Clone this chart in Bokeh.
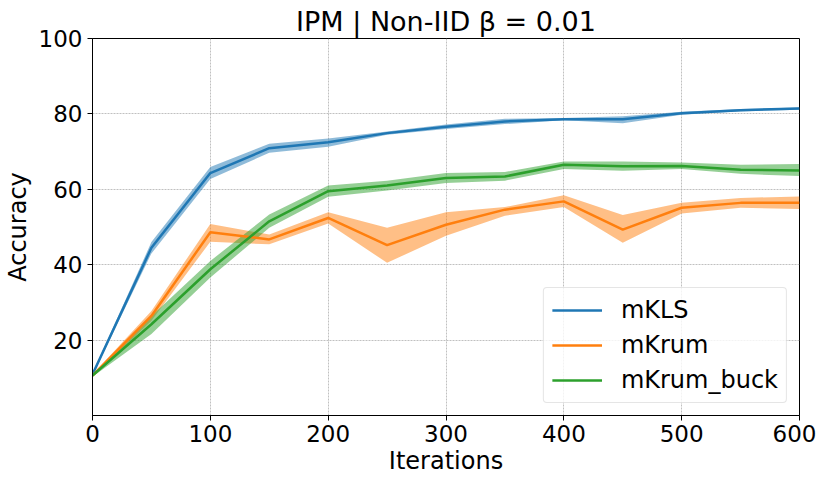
from bokeh.plotting import figure
from bokeh.models import Legend, LegendItem, FixedTicker, Range1d
from bokeh.embed import file_html
from bokeh.resources import INLINE

iterations = [0, 50, 100, 150, 200, 250, 300, 350, 400, 450, 500, 550, 600]

mkls_mean = [10.9, 44.5, 64.3, 70.9, 72.5, 74.9, 76.6, 78.0, 78.6, 78.6, 80.2, 81.0, 81.4]
mkls_low  = [10.6, 43.0, 62.7, 69.7, 71.3, 74.5, 76.0, 77.3, 78.3, 77.5, 79.8, 80.7, 81.1]
mkls_high = [11.2, 46.0, 65.9, 72.1, 73.5, 75.3, 77.2, 78.7, 78.9, 79.4, 80.6, 81.3, 81.7]

mkrum_mean = [10.6, 26.4, 48.6, 46.7, 52.4, 45.2, 50.6, 54.6, 56.8, 49.3, 55.1, 56.4, 56.4]
mkrum_low  = [10.3, 25.1, 46.1, 45.4, 50.9, 40.5, 47.7, 53.0, 55.3, 45.8, 53.6, 55.1, 54.8]
mkrum_high = [10.9, 27.7, 50.8, 48.0, 53.9, 49.8, 53.9, 55.3, 58.4, 53.2, 56.4, 57.7, 58.1]

buck_mean = [10.6, 24.2, 38.8, 51.5, 59.5, 61.0, 63.0, 63.4, 66.5, 66.1, 66.2, 65.2, 65.0]
buck_low  = [10.3, 21.6, 36.6, 49.8, 58.0, 59.7, 61.7, 62.3, 65.4, 64.9, 65.4, 64.1, 63.5]
buck_high = [10.9, 26.4, 41.0, 53.3, 61.0, 62.3, 64.3, 64.6, 67.4, 67.4, 67.1, 66.5, 66.7]

series_names = ["mKLS", "mKrum", "mKrum_buck"]
colors = ["#1f77b4", "#ff7f0e", "#2ca02c"]

x_ticks = [0, 100, 200, 300, 400, 500, 600]
y_ticks = [20, 40, 60, 80, 100]

FONT = "DejaVu Sans"

p = figure(frame_width=707, frame_height=377, output_backend="svg", toolbar_location=None,
           x_range=Range1d(0, 600), y_range=Range1d(0, 100),
           min_border_left=83, min_border_right=17, min_border_top=38, min_border_bottom=58)

p.title.text = "IPM | Non-IID \u03b2 = 0.01"
p.title.text_font = FONT
p.title.text_font_size = "27px"
p.title.text_font_style = "normal"
p.title.text_color = "black"
p.title.align = "center"
p.title.offset = 0
p.title.standoff = 4

data = [(mkls_mean, mkls_low, mkls_high), (mkrum_mean, mkrum_low, mkrum_high),
        (buck_mean, buck_low, buck_high)]

items = []
for (m, lo, hi), name, c in zip(data, series_names, colors):
    p.varea(x=iterations, y1=lo, y2=hi, fill_color=c, fill_alpha=0.5)
for (m, lo, hi), name, c in zip(data, series_names, colors):
    r = p.line(x=iterations, y=m, line_color=c, line_width=2.5)
    items.append(LegendItem(label=name, renderers=[r]))

legend = Legend(items=items, location="bottom_right")
legend.label_text_font = FONT
legend.label_text_font_size = "24px"
legend.label_text_color = "black"
legend.glyph_width = 50
legend.glyph_height = 28
legend.label_height = 28
legend.label_standoff = 19
legend.spacing = 7
legend.padding = 8
legend.margin = 12
legend.border_line_color = "#cccccc"
legend.border_line_width = 1
legend.border_radius = 4
legend.background_fill_alpha = 0.8
p.add_layout(legend)

p.xaxis.ticker = FixedTicker(ticks=x_ticks)
p.yaxis.ticker = FixedTicker(ticks=y_ticks)
for ax in (p.xaxis[0], p.yaxis[0]):
    ax.axis_label_text_font = FONT
    ax.axis_label_text_font_size = "24px"
    ax.axis_label_text_font_style = "normal"
    ax.axis_label_text_color = "black"
    ax.major_label_text_font = FONT
    ax.major_label_text_font_size = "23px"
    ax.major_label_text_color = "black"
    ax.axis_line_color = "black"
    ax.major_tick_line_color = "black"
    ax.major_tick_in = 0
    ax.major_tick_out = 5
    ax.minor_tick_line_color = None
p.xaxis.axis_label = "Iterations"
p.yaxis.axis_label = "Accuracy"
p.xaxis.axis_label_standoff = 2
p.yaxis.axis_label_standoff = 4
p.xaxis.major_label_standoff = 4
p.yaxis.major_label_standoff = 5

p.outline_line_color = "black"
p.outline_line_width = 1
p.grid.grid_line_color = "#b0b0b0"
p.grid.grid_line_dash = "2 1"
p.grid.grid_line_width = 0.8

open("out.html", "w").write(file_html(p, INLINE))
